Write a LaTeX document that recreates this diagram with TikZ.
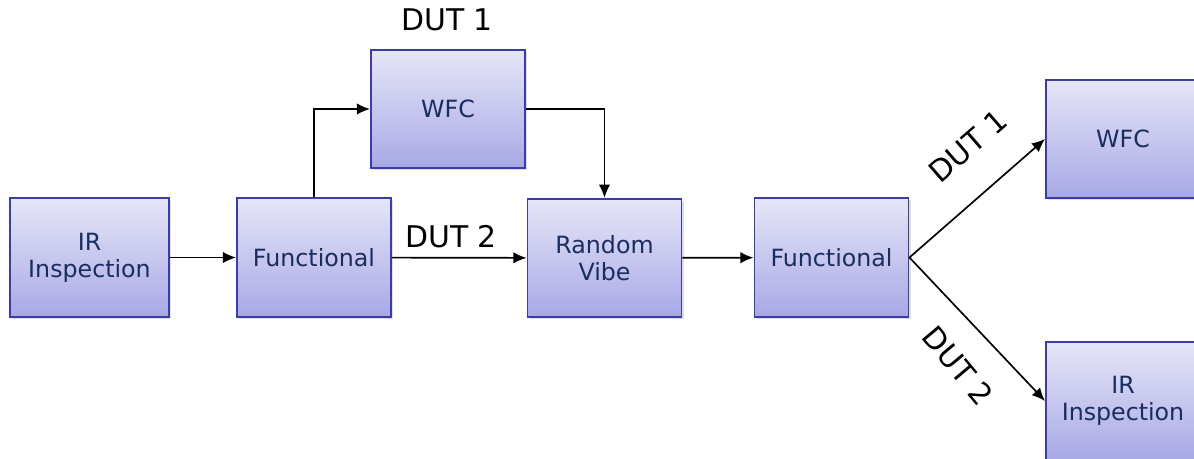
\documentclass[tikz,border=0pt]{standalone}
\usepackage{fontspec}
\setmainfont{DejaVu Sans}
\usetikzlibrary{arrows.meta,shadows}
\definecolor{boxline}{RGB}{60,60,165}
\definecolor{boxtop}{RGB}{230,230,248}
\definecolor{boxbot}{RGB}{168,168,230}
\definecolor{boxtext}{RGB}{25,45,95}
\tikzset{
  stage/.style={draw=boxline, line width=1.1pt, top color=boxtop, bottom color=boxbot,
    minimum width=3.08cm, minimum height=2.37cm, align=center, text=boxtext,
    font=\fontsize{13.5}{15.5}\selectfont,
    drop shadow={opacity=0.25, shadow xshift=1.2pt, shadow yshift=-1.2pt}},
  flow/.style={line width=0.95pt, -{Latex[length=7.5pt,width=6.5pt]}},
  dut/.style={font=\fontsize{17}{19}\selectfont}
}
\begin{document}
\begin{tikzpicture}[x=0.02cm,y=-0.02cm]
\useasboundingbox (0,0) rectangle (1194,459);
\node[stage, minimum width=3.18cm] (ir1) at (89.5,257.5) {IR\\Inspection};
\node[stage] (fun1) at (314,257.5) {Functional};
\node[stage] (wfc1) at (448,109) {WFC};
\node[stage] (vib) at (604.5,258) {Random\\Vibe};
\node[stage] (fun2) at (831.5,257.5) {Functional};
\node[stage] (wfc2) at (1123,139) {WFC};
\node[stage] (ir2) at (1123,401) {IR\\Inspection};
\node[dut] (dut1) at (447,20) {DUT 1};
\node[dut] (dut2) at (451,237) {DUT 2};
\node[dut, rotate=41] (dut3) at (968,146) {DUT 1};
\node[dut, rotate=-50] (dut4) at (958,366) {DUT 2};
\draw[flow] (ir1) -- (fun1);
\draw[flow] (fun1.north) |- (wfc1.west);
\draw[flow] (wfc1.east) -| (vib.north);
\draw[flow] (fun1) -- (vib);
\draw[flow] (vib) -- (fun2);
\draw[flow] (fun2.east) -- (wfc2.west);
\draw[flow] (fun2.east) -- (ir2.west);
\end{tikzpicture}
\end{document}
